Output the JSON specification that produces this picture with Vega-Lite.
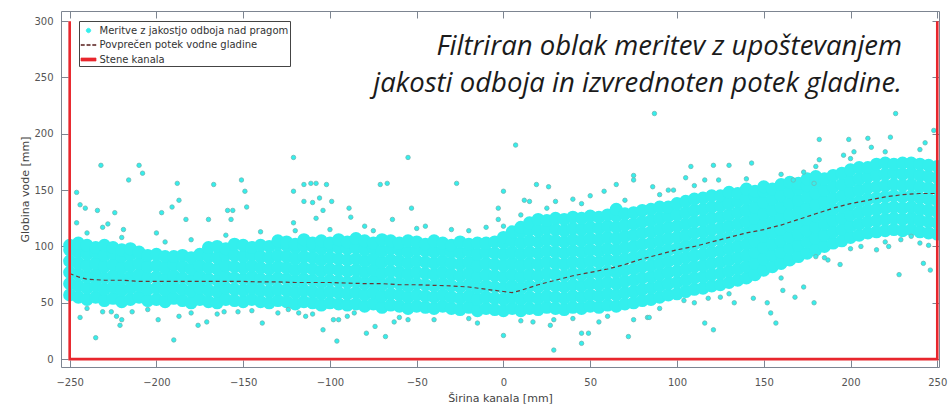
{
  "$schema": "https://vega.github.io/schema/vega-lite/v6.json",
  "width": 878,
  "height": 356,
  "autosize": {"type": "none"},
  "padding": {"left": 61, "top": 11, "right": 9, "bottom": 38},
  "background": "white",
  "config": {
    "view": {"stroke": "#7d8591", "strokeWidth": 1},
    "font": "DejaVu Sans",
    "axis": {
      "grid": false, "domain": false,
      "tickColor": "#7d8591", "tickSize": -7, "tickWidth": 1,
      "labelFont": "DejaVu Sans", "labelFontSize": 10, "labelColor": "#555555", "labelFlush": false,
      "titleFont": "DejaVu Sans", "titleFontSize": 11, "titleFontWeight": "normal", "titleColor": "#444444"
    }
  },
  "datasets": {
    "core": [
      {"x":-250,"y":57},{"x":-250,"y":67},{"x":-250,"y":77},{"x":-250,"y":87},{"x":-250,"y":97},{"x":-250,"y":101},
      {"x":-245,"y":55},{"x":-245,"y":65},{"x":-245,"y":75},{"x":-245,"y":85},{"x":-245,"y":95},{"x":-245,"y":103},
      {"x":-240,"y":53},{"x":-240,"y":63},{"x":-240,"y":73},{"x":-240,"y":83},{"x":-240,"y":93},{"x":-240,"y":101},
      {"x":-235,"y":55},{"x":-235,"y":65},{"x":-235,"y":75},{"x":-235,"y":85},{"x":-235,"y":95},{"x":-235,"y":99},
      {"x":-230,"y":52},{"x":-230,"y":62},{"x":-230,"y":72},{"x":-230,"y":82},{"x":-230,"y":92},{"x":-230,"y":101},
      {"x":-225,"y":54},{"x":-225,"y":64},{"x":-225,"y":74},{"x":-225,"y":84},{"x":-225,"y":94},{"x":-225,"y":99},
      {"x":-220,"y":51},{"x":-220,"y":61},{"x":-220,"y":71},{"x":-220,"y":81},{"x":-220,"y":91},{"x":-220,"y":97},
      {"x":-215,"y":53},{"x":-215,"y":63},{"x":-215,"y":73},{"x":-215,"y":83},{"x":-215,"y":93},{"x":-215,"y":98},
      {"x":-210,"y":55},{"x":-210,"y":65},{"x":-210,"y":75},{"x":-210,"y":85},{"x":-210,"y":95},
      {"x":-205,"y":52},{"x":-205,"y":62},{"x":-205,"y":72},{"x":-205,"y":82},{"x":-205,"y":92},
      {"x":-200,"y":53},{"x":-200,"y":63},{"x":-200,"y":73},{"x":-200,"y":83},{"x":-200,"y":93},
      {"x":-195,"y":51},{"x":-195,"y":61},{"x":-195,"y":71},{"x":-195,"y":81},{"x":-195,"y":91},
      {"x":-190,"y":54},{"x":-190,"y":64},{"x":-190,"y":74},{"x":-190,"y":84},{"x":-190,"y":91},
      {"x":-185,"y":52},{"x":-185,"y":62},{"x":-185,"y":72},{"x":-185,"y":82},{"x":-185,"y":92},
      {"x":-180,"y":50},{"x":-180,"y":60},{"x":-180,"y":70},{"x":-180,"y":80},{"x":-180,"y":90},
      {"x":-175,"y":53},{"x":-175,"y":63},{"x":-175,"y":73},{"x":-175,"y":83},{"x":-175,"y":93},
      {"x":-170,"y":51},{"x":-170,"y":61},{"x":-170,"y":71},{"x":-170,"y":81},{"x":-170,"y":91},{"x":-170,"y":99},
      {"x":-165,"y":50},{"x":-165,"y":60},{"x":-165,"y":70},{"x":-165,"y":80},{"x":-165,"y":90},{"x":-165,"y":100},
      {"x":-160,"y":53},{"x":-160,"y":63},{"x":-160,"y":73},{"x":-160,"y":83},{"x":-160,"y":93},{"x":-160,"y":98},
      {"x":-155,"y":52},{"x":-155,"y":62},{"x":-155,"y":72},{"x":-155,"y":82},{"x":-155,"y":92},{"x":-155,"y":102},
      {"x":-150,"y":51},{"x":-150,"y":61},{"x":-150,"y":71},{"x":-150,"y":81},{"x":-150,"y":91},{"x":-150,"y":101},
      {"x":-145,"y":53},{"x":-145,"y":63},{"x":-145,"y":73},{"x":-145,"y":83},{"x":-145,"y":93},{"x":-145,"y":99},
      {"x":-140,"y":51},{"x":-140,"y":61},{"x":-140,"y":71},{"x":-140,"y":81},{"x":-140,"y":91},{"x":-140,"y":101},
      {"x":-135,"y":50},{"x":-135,"y":60},{"x":-135,"y":70},{"x":-135,"y":80},{"x":-135,"y":90},{"x":-135,"y":100},
      {"x":-130,"y":52},{"x":-130,"y":62},{"x":-130,"y":72},{"x":-130,"y":82},{"x":-130,"y":92},{"x":-130,"y":102},{"x":-130,"y":105},
      {"x":-125,"y":51},{"x":-125,"y":61},{"x":-125,"y":71},{"x":-125,"y":81},{"x":-125,"y":91},{"x":-125,"y":101},{"x":-125,"y":104},
      {"x":-120,"y":49},{"x":-120,"y":59},{"x":-120,"y":69},{"x":-120,"y":79},{"x":-120,"y":89},{"x":-120,"y":99},{"x":-120,"y":102},
      {"x":-115,"y":51},{"x":-115,"y":61},{"x":-115,"y":71},{"x":-115,"y":81},{"x":-115,"y":91},{"x":-115,"y":101},{"x":-115,"y":106},
      {"x":-110,"y":50},{"x":-110,"y":60},{"x":-110,"y":70},{"x":-110,"y":80},{"x":-110,"y":90},{"x":-110,"y":100},{"x":-110,"y":103},
      {"x":-105,"y":48},{"x":-105,"y":58},{"x":-105,"y":68},{"x":-105,"y":78},{"x":-105,"y":88},{"x":-105,"y":98},{"x":-105,"y":105},
      {"x":-100,"y":50},{"x":-100,"y":60},{"x":-100,"y":70},{"x":-100,"y":80},{"x":-100,"y":90},{"x":-100,"y":100},{"x":-100,"y":103},
      {"x":-95,"y":49},{"x":-95,"y":59},{"x":-95,"y":69},{"x":-95,"y":79},{"x":-95,"y":89},{"x":-95,"y":99},{"x":-95,"y":106},
      {"x":-90,"y":48},{"x":-90,"y":58},{"x":-90,"y":68},{"x":-90,"y":78},{"x":-90,"y":88},{"x":-90,"y":98},{"x":-90,"y":104},
      {"x":-85,"y":49},{"x":-85,"y":59},{"x":-85,"y":69},{"x":-85,"y":79},{"x":-85,"y":89},{"x":-85,"y":99},{"x":-85,"y":107},
      {"x":-80,"y":47},{"x":-80,"y":57},{"x":-80,"y":67},{"x":-80,"y":77},{"x":-80,"y":87},{"x":-80,"y":97},{"x":-80,"y":105},
      {"x":-75,"y":49},{"x":-75,"y":59},{"x":-75,"y":69},{"x":-75,"y":79},{"x":-75,"y":89},{"x":-75,"y":99},{"x":-75,"y":103},
      {"x":-70,"y":46},{"x":-70,"y":56},{"x":-70,"y":66},{"x":-70,"y":76},{"x":-70,"y":86},{"x":-70,"y":96},{"x":-70,"y":106},
      {"x":-65,"y":48},{"x":-65,"y":58},{"x":-65,"y":68},{"x":-65,"y":78},{"x":-65,"y":88},{"x":-65,"y":98},{"x":-65,"y":105},
      {"x":-60,"y":47},{"x":-60,"y":57},{"x":-60,"y":67},{"x":-60,"y":77},{"x":-60,"y":87},{"x":-60,"y":97},{"x":-60,"y":103},
      {"x":-55,"y":45},{"x":-55,"y":55},{"x":-55,"y":65},{"x":-55,"y":75},{"x":-55,"y":85},{"x":-55,"y":95},{"x":-55,"y":105},
      {"x":-50,"y":47},{"x":-50,"y":57},{"x":-50,"y":67},{"x":-50,"y":77},{"x":-50,"y":87},{"x":-50,"y":97},{"x":-50,"y":104},
      {"x":-45,"y":46},{"x":-45,"y":56},{"x":-45,"y":66},{"x":-45,"y":76},{"x":-45,"y":86},{"x":-45,"y":96},{"x":-45,"y":102},
      {"x":-40,"y":45},{"x":-40,"y":55},{"x":-40,"y":65},{"x":-40,"y":75},{"x":-40,"y":85},{"x":-40,"y":95},{"x":-40,"y":105},
      {"x":-35,"y":47},{"x":-35,"y":57},{"x":-35,"y":67},{"x":-35,"y":77},{"x":-35,"y":87},{"x":-35,"y":97},{"x":-35,"y":103},
      {"x":-30,"y":45},{"x":-30,"y":55},{"x":-30,"y":65},{"x":-30,"y":75},{"x":-30,"y":85},{"x":-30,"y":95},{"x":-30,"y":101},
      {"x":-25,"y":44},{"x":-25,"y":54},{"x":-25,"y":64},{"x":-25,"y":74},{"x":-25,"y":84},{"x":-25,"y":94},{"x":-25,"y":104},
      {"x":-20,"y":46},{"x":-20,"y":56},{"x":-20,"y":66},{"x":-20,"y":76},{"x":-20,"y":86},{"x":-20,"y":96},{"x":-20,"y":102},
      {"x":-15,"y":43},{"x":-15,"y":53},{"x":-15,"y":63},{"x":-15,"y":73},{"x":-15,"y":83},{"x":-15,"y":93},{"x":-15,"y":103},
      {"x":-10,"y":45},{"x":-10,"y":55},{"x":-10,"y":65},{"x":-10,"y":75},{"x":-10,"y":85},{"x":-10,"y":95},{"x":-10,"y":103},
      {"x":-5,"y":44},{"x":-5,"y":54},{"x":-5,"y":64},{"x":-5,"y":74},{"x":-5,"y":84},{"x":-5,"y":94},{"x":-5,"y":104},
      {"x":0,"y":43},{"x":0,"y":53},{"x":0,"y":63},{"x":0,"y":73},{"x":0,"y":83},{"x":0,"y":93},{"x":0,"y":103},{"x":0,"y":108},
      {"x":5,"y":45},{"x":5,"y":55},{"x":5,"y":65},{"x":5,"y":75},{"x":5,"y":85},{"x":5,"y":95},{"x":5,"y":105},{"x":5,"y":113},
      {"x":10,"y":43},{"x":10,"y":53},{"x":10,"y":63},{"x":10,"y":73},{"x":10,"y":83},{"x":10,"y":93},{"x":10,"y":103},{"x":10,"y":113},{"x":10,"y":117},
      {"x":15,"y":45},{"x":15,"y":55},{"x":15,"y":65},{"x":15,"y":75},{"x":15,"y":85},{"x":15,"y":95},{"x":15,"y":105},{"x":15,"y":115},{"x":15,"y":121},
      {"x":20,"y":44},{"x":20,"y":54},{"x":20,"y":64},{"x":20,"y":74},{"x":20,"y":84},{"x":20,"y":94},{"x":20,"y":104},{"x":20,"y":114},{"x":20,"y":124},
      {"x":25,"y":46},{"x":25,"y":56},{"x":25,"y":66},{"x":25,"y":76},{"x":25,"y":86},{"x":25,"y":96},{"x":25,"y":106},{"x":25,"y":116},{"x":25,"y":123},
      {"x":30,"y":45},{"x":30,"y":55},{"x":30,"y":65},{"x":30,"y":75},{"x":30,"y":85},{"x":30,"y":95},{"x":30,"y":105},{"x":30,"y":115},{"x":30,"y":125},
      {"x":35,"y":44},{"x":35,"y":54},{"x":35,"y":64},{"x":35,"y":74},{"x":35,"y":84},{"x":35,"y":94},{"x":35,"y":104},{"x":35,"y":114},{"x":35,"y":124},
      {"x":40,"y":46},{"x":40,"y":56},{"x":40,"y":66},{"x":40,"y":76},{"x":40,"y":86},{"x":40,"y":96},{"x":40,"y":106},{"x":40,"y":116},{"x":40,"y":126},
      {"x":45,"y":45},{"x":45,"y":55},{"x":45,"y":65},{"x":45,"y":75},{"x":45,"y":85},{"x":45,"y":95},{"x":45,"y":105},{"x":45,"y":115},{"x":45,"y":125},
      {"x":50,"y":47},{"x":50,"y":57},{"x":50,"y":67},{"x":50,"y":77},{"x":50,"y":87},{"x":50,"y":97},{"x":50,"y":107},{"x":50,"y":117},{"x":50,"y":127},
      {"x":55,"y":46},{"x":55,"y":56},{"x":55,"y":66},{"x":55,"y":76},{"x":55,"y":86},{"x":55,"y":96},{"x":55,"y":106},{"x":55,"y":116},{"x":55,"y":126},
      {"x":60,"y":48},{"x":60,"y":58},{"x":60,"y":68},{"x":60,"y":78},{"x":60,"y":88},{"x":60,"y":98},{"x":60,"y":108},{"x":60,"y":118},{"x":60,"y":128},
      {"x":65,"y":47},{"x":65,"y":57},{"x":65,"y":67},{"x":65,"y":77},{"x":65,"y":87},{"x":65,"y":97},{"x":65,"y":107},{"x":65,"y":117},{"x":65,"y":127},{"x":65,"y":133},
      {"x":70,"y":49},{"x":70,"y":59},{"x":70,"y":69},{"x":70,"y":79},{"x":70,"y":89},{"x":70,"y":99},{"x":70,"y":109},{"x":70,"y":119},{"x":70,"y":129},
      {"x":75,"y":50},{"x":75,"y":60},{"x":75,"y":70},{"x":75,"y":80},{"x":75,"y":90},{"x":75,"y":100},{"x":75,"y":110},{"x":75,"y":120},{"x":75,"y":130},
      {"x":80,"y":52},{"x":80,"y":62},{"x":80,"y":72},{"x":80,"y":82},{"x":80,"y":92},{"x":80,"y":102},{"x":80,"y":112},{"x":80,"y":122},{"x":80,"y":132},
      {"x":85,"y":53},{"x":85,"y":63},{"x":85,"y":73},{"x":85,"y":83},{"x":85,"y":93},{"x":85,"y":103},{"x":85,"y":113},{"x":85,"y":123},{"x":85,"y":133},
      {"x":90,"y":55},{"x":90,"y":65},{"x":90,"y":75},{"x":90,"y":85},{"x":90,"y":95},{"x":90,"y":105},{"x":90,"y":115},{"x":90,"y":125},{"x":90,"y":135},
      {"x":95,"y":57},{"x":95,"y":67},{"x":95,"y":77},{"x":95,"y":87},{"x":95,"y":97},{"x":95,"y":107},{"x":95,"y":117},{"x":95,"y":127},{"x":95,"y":135},
      {"x":100,"y":58},{"x":100,"y":68},{"x":100,"y":78},{"x":100,"y":88},{"x":100,"y":98},{"x":100,"y":108},{"x":100,"y":118},{"x":100,"y":128},{"x":100,"y":138},
      {"x":105,"y":60},{"x":105,"y":70},{"x":105,"y":80},{"x":105,"y":90},{"x":105,"y":100},{"x":105,"y":110},{"x":105,"y":120},{"x":105,"y":130},{"x":105,"y":140},
      {"x":110,"y":62},{"x":110,"y":72},{"x":110,"y":82},{"x":110,"y":92},{"x":110,"y":102},{"x":110,"y":112},{"x":110,"y":122},{"x":110,"y":132},{"x":110,"y":142},
      {"x":115,"y":63},{"x":115,"y":73},{"x":115,"y":83},{"x":115,"y":93},{"x":115,"y":103},{"x":115,"y":113},{"x":115,"y":123},{"x":115,"y":133},{"x":115,"y":143},
      {"x":120,"y":65},{"x":120,"y":75},{"x":120,"y":85},{"x":120,"y":95},{"x":120,"y":105},{"x":120,"y":115},{"x":120,"y":125},{"x":120,"y":135},{"x":120,"y":145},
      {"x":125,"y":66},{"x":125,"y":76},{"x":125,"y":86},{"x":125,"y":96},{"x":125,"y":106},{"x":125,"y":116},{"x":125,"y":126},{"x":125,"y":136},{"x":125,"y":145},
      {"x":130,"y":68},{"x":130,"y":78},{"x":130,"y":88},{"x":130,"y":98},{"x":130,"y":108},{"x":130,"y":118},{"x":130,"y":128},{"x":130,"y":138},{"x":130,"y":148},
      {"x":135,"y":70},{"x":135,"y":80},{"x":135,"y":90},{"x":135,"y":100},{"x":135,"y":110},{"x":135,"y":120},{"x":135,"y":130},{"x":135,"y":140},{"x":135,"y":147},
      {"x":140,"y":72},{"x":140,"y":82},{"x":140,"y":92},{"x":140,"y":102},{"x":140,"y":112},{"x":140,"y":122},{"x":140,"y":132},{"x":140,"y":142},{"x":140,"y":151},
      {"x":145,"y":75},{"x":145,"y":85},{"x":145,"y":95},{"x":145,"y":105},{"x":145,"y":115},{"x":145,"y":125},{"x":145,"y":135},{"x":145,"y":145},{"x":145,"y":149},
      {"x":150,"y":79},{"x":150,"y":89},{"x":150,"y":99},{"x":150,"y":109},{"x":150,"y":119},{"x":150,"y":129},{"x":150,"y":139},{"x":150,"y":149},{"x":150,"y":153},
      {"x":155,"y":82},{"x":155,"y":92},{"x":155,"y":102},{"x":155,"y":112},{"x":155,"y":122},{"x":155,"y":132},{"x":155,"y":142},{"x":155,"y":151},
      {"x":160,"y":85},{"x":160,"y":95},{"x":160,"y":105},{"x":160,"y":115},{"x":160,"y":125},{"x":160,"y":135},{"x":160,"y":145},{"x":160,"y":155},
      {"x":165,"y":88},{"x":165,"y":98},{"x":165,"y":108},{"x":165,"y":118},{"x":165,"y":128},{"x":165,"y":138},{"x":165,"y":148},{"x":165,"y":157},
      {"x":170,"y":91},{"x":170,"y":101},{"x":170,"y":111},{"x":170,"y":121},{"x":170,"y":131},{"x":170,"y":141},{"x":170,"y":151},{"x":170,"y":156},
      {"x":175,"y":94},{"x":175,"y":104},{"x":175,"y":114},{"x":175,"y":124},{"x":175,"y":134},{"x":175,"y":144},{"x":175,"y":154},{"x":175,"y":160},
      {"x":180,"y":97},{"x":180,"y":107},{"x":180,"y":117},{"x":180,"y":127},{"x":180,"y":137},{"x":180,"y":147},{"x":180,"y":157},{"x":180,"y":162},
      {"x":185,"y":100},{"x":185,"y":110},{"x":185,"y":120},{"x":185,"y":130},{"x":185,"y":140},{"x":185,"y":150},{"x":185,"y":160},
      {"x":190,"y":103},{"x":190,"y":113},{"x":190,"y":123},{"x":190,"y":133},{"x":190,"y":143},{"x":190,"y":153},{"x":190,"y":163},
      {"x":195,"y":105},{"x":195,"y":115},{"x":195,"y":125},{"x":195,"y":135},{"x":195,"y":145},{"x":195,"y":155},{"x":195,"y":165},
      {"x":200,"y":108},{"x":200,"y":118},{"x":200,"y":128},{"x":200,"y":138},{"x":200,"y":148},{"x":200,"y":158},{"x":200,"y":168},
      {"x":205,"y":110},{"x":205,"y":120},{"x":205,"y":130},{"x":205,"y":140},{"x":205,"y":150},{"x":205,"y":160},{"x":205,"y":170},
      {"x":210,"y":112},{"x":210,"y":122},{"x":210,"y":132},{"x":210,"y":142},{"x":210,"y":152},{"x":210,"y":162},{"x":210,"y":170},
      {"x":215,"y":113},{"x":215,"y":123},{"x":215,"y":133},{"x":215,"y":143},{"x":215,"y":153},{"x":215,"y":163},{"x":215,"y":173},
      {"x":220,"y":114},{"x":220,"y":124},{"x":220,"y":134},{"x":220,"y":144},{"x":220,"y":154},{"x":220,"y":164},{"x":220,"y":174},
      {"x":225,"y":115},{"x":225,"y":125},{"x":225,"y":135},{"x":225,"y":145},{"x":225,"y":155},{"x":225,"y":165},{"x":225,"y":173},
      {"x":230,"y":114},{"x":230,"y":124},{"x":230,"y":134},{"x":230,"y":144},{"x":230,"y":154},{"x":230,"y":164},{"x":230,"y":174},
      {"x":235,"y":115},{"x":235,"y":125},{"x":235,"y":135},{"x":235,"y":145},{"x":235,"y":155},{"x":235,"y":165},{"x":235,"y":174},
      {"x":240,"y":113},{"x":240,"y":123},{"x":240,"y":133},{"x":240,"y":143},{"x":240,"y":153},{"x":240,"y":163},{"x":240,"y":173},
      {"x":245,"y":112},{"x":245,"y":122},{"x":245,"y":132},{"x":245,"y":142},{"x":245,"y":152},{"x":245,"y":162},{"x":245,"y":172},
      {"x":250,"y":111},{"x":250,"y":121},{"x":250,"y":131},{"x":250,"y":141},{"x":250,"y":151},{"x":250,"y":161},{"x":250,"y":171}
    ],
    "sparse": [
      {"x":-232,"y":172},{"x":-210,"y":172},{"x":-208,"y":165},{"x":-216,"y":159},{"x":-246,"y":148},{"x":-244,"y":137},{"x":-241,"y":134},
      {"x":-234,"y":132},{"x":-224,"y":130},{"x":-246,"y":121},{"x":-231,"y":117},{"x":-228,"y":120},{"x":-219,"y":115},{"x":-200,"y":112},
      {"x":-188,"y":156},{"x":-187,"y":141},{"x":-191,"y":135},{"x":-197,"y":130},{"x":-183,"y":124},{"x":-167,"y":155},{"x":-151,"y":159},
      {"x":-149,"y":149},{"x":-148,"y":135},{"x":-159,"y":132},{"x":-156,"y":132},{"x":-170,"y":124},{"x":-157,"y":124},{"x":-121,"y":179},
      {"x":-121,"y":149},{"x":-115,"y":155},{"x":-111,"y":156},{"x":-108,"y":156},{"x":-102,"y":155},{"x":-115,"y":140},{"x":-110,"y":139},
      {"x":-106,"y":143},{"x":-99,"y":140},{"x":-104,"y":132},{"x":-108,"y":125},{"x":-121,"y":121},{"x":-89,"y":134},{"x":-88,"y":126},
      {"x":7,"y":190},{"x":-55,"y":179},{"x":-71,"y":155},{"x":-67,"y":156},{"x":-27,"y":156},{"x":-53,"y":134},{"x":-64,"y":124},
      {"x":0,"y":149},{"x":-3,"y":134},{"x":-3,"y":124},{"x":12,"y":141},{"x":15,"y":140},{"x":19,"y":155},{"x":26,"y":153},
      {"x":58,"y":149},{"x":65,"y":155},{"x":75,"y":163},{"x":75,"y":159},{"x":-80,"y":118},{"x":-45,"y":118},{"x":-30,"y":115},
      {"x":-10,"y":117},{"x":30,"y":140},{"x":40,"y":142},{"x":50,"y":145},
      {"x":87,"y":218},{"x":226,"y":218},{"x":182,"y":195},{"x":199,"y":195},{"x":210,"y":196},{"x":223,"y":197},{"x":243,"y":192},
      {"x":248,"y":203},{"x":196,"y":181},{"x":202,"y":184},{"x":212,"y":188},{"x":182,"y":177},{"x":173,"y":166},{"x":143,"y":174},
      {"x":108,"y":171},{"x":121,"y":172},{"x":130,"y":172},{"x":105,"y":161},{"x":116,"y":159},{"x":124,"y":159},{"x":86,"y":153},
      {"x":95,"y":150},{"x":98,"y":150},{"x":167,"y":159},{"x":179,"y":156},
      {"x":-244,"y":37},{"x":-235,"y":19},{"x":-231,"y":42},{"x":-221,"y":30},{"x":-220,"y":35},{"x":-223,"y":38},{"x":-214,"y":42},
      {"x":-199,"y":35},{"x":-190,"y":17},{"x":-187,"y":38},{"x":-176,"y":30},{"x":-171,"y":33},{"x":-161,"y":42},{"x":-153,"y":42},
      {"x":-139,"y":32},{"x":-124,"y":44},{"x":-118,"y":41},{"x":-114,"y":38},{"x":-104,"y":26},{"x":-98,"y":35},{"x":-95,"y":35},
      {"x":-96,"y":16},{"x":-86,"y":41},
      {"x":-79,"y":23},{"x":-68,"y":20},{"x":-74,"y":29},{"x":-63,"y":33},{"x":-55,"y":35},{"x":0,"y":21},{"x":-15,"y":32},
      {"x":17,"y":33},{"x":27,"y":30},{"x":29,"y":35},{"x":29,"y":8},{"x":45,"y":23},{"x":49,"y":23},{"x":45,"y":14},
      {"x":72,"y":20},{"x":55,"y":33},{"x":75,"y":35},{"x":83,"y":37},
      {"x":84,"y":37},{"x":104,"y":52},{"x":110,"y":50},{"x":118,"y":54},{"x":125,"y":55},{"x":133,"y":50},{"x":144,"y":54},
      {"x":152,"y":50},{"x":154,"y":41},{"x":157,"y":32},{"x":161,"y":61},{"x":168,"y":55},{"x":173,"y":64},{"x":179,"y":50},
      {"x":194,"y":84},{"x":228,"y":75},{"x":242,"y":85},{"x":246,"y":79},{"x":206,"y":100},{"x":215,"y":97},{"x":222,"y":100},
      {"x":229,"y":106},{"x":235,"y":109},{"x":240,"y":103},{"x":180,"y":91},{"x":187,"y":88},{"x":116,"y":32},{"x":121,"y":26},
      {"x":-240,"y":112},{"x":-220,"y":108},{"x":-195,"y":104},{"x":-180,"y":106},{"x":-160,"y":110},{"x":-140,"y":113},{"x":-120,"y":114},
      {"x":-100,"y":115},{"x":-75,"y":114},{"x":-50,"y":116},{"x":-20,"y":114},{"x":0,"y":118},{"x":10,"y":128},{"x":25,"y":134},
      {"x":45,"y":138},{"x":70,"y":141},{"x":90,"y":146},{"x":110,"y":154},{"x":140,"y":160},{"x":160,"y":164},{"x":180,"y":171},
      {"x":200,"y":178},{"x":220,"y":184},{"x":240,"y":186},
      {"x":-240,"y":45},{"x":-226,"y":42},{"x":-205,"y":44},{"x":-180,"y":41},{"x":-165,"y":40},{"x":-145,"y":43},{"x":-130,"y":41},
      {"x":-110,"y":40},{"x":-90,"y":38},{"x":-60,"y":37},{"x":-40,"y":35},{"x":-20,"y":36},{"x":10,"y":34},{"x":40,"y":36},
      {"x":60,"y":38},{"x":90,"y":45},{"x":130,"y":58},{"x":160,"y":72},{"x":185,"y":90},{"x":200,"y":98},{"x":220,"y":104},{"x":245,"y":101}
    ],
    "mean": [
      {"x":-250,"y":76},{"x":-245,"y":73},{"x":-240,"y":71},{"x":-230,"y":70},{"x":-220,"y":70},{"x":-210,"y":69},{"x":-200,"y":69},
      {"x":-190,"y":69},{"x":-180,"y":69},{"x":-170,"y":69},{"x":-160,"y":69},{"x":-150,"y":69},{"x":-140,"y":68.5},{"x":-130,"y":68.5},
      {"x":-120,"y":68},{"x":-110,"y":68},{"x":-100,"y":68},{"x":-90,"y":67.5},{"x":-80,"y":67},{"x":-70,"y":67},{"x":-60,"y":66},
      {"x":-50,"y":66},{"x":-40,"y":65.5},{"x":-30,"y":65},{"x":-20,"y":64},{"x":-10,"y":62},{"x":0,"y":60},{"x":5,"y":59},
      {"x":10,"y":61},{"x":20,"y":66},{"x":30,"y":70},{"x":40,"y":74},{"x":50,"y":77},{"x":60,"y":80},{"x":70,"y":84},
      {"x":80,"y":89},{"x":90,"y":93},{"x":100,"y":97},{"x":110,"y":100},{"x":120,"y":104},{"x":130,"y":108},{"x":140,"y":112},
      {"x":150,"y":115},{"x":160,"y":119},{"x":170,"y":124},{"x":180,"y":129},{"x":190,"y":134},{"x":200,"y":138},{"x":210,"y":141},
      {"x":220,"y":144},{"x":230,"y":146},{"x":240,"y":147},{"x":250,"y":147}
    ],
    "walls": [
      {"x":-250,"y":300,"o":1},{"x":-250,"y":0,"o":2},{"x":250,"y":0,"o":3},{"x":250,"y":300,"o":4}
    ],
    "notes": [
      {"x":229.7,"y":270.3,"t":"Filtriran oblak meritev z upoštevanjem"},
      {"x":229.7,"y":237.5,"t":"jakosti odboja in izvrednoten potek gladine."}
    ]
  },
  "resolve": {"axis": {"x": "independent", "y": "independent"}},
  "layer": [
    {
      "data": {"name": "core"},
      "mark": {"type": "circle", "size": 170, "opacity": 1, "clip": true},
      "encoding": {
        "x": {
          "field": "x", "type": "quantitative",
          "scale": {"domain": [-255, 251], "nice": false, "zero": false},
          "axis": {"orient": "bottom", "values": [-250,-200,-150,-100,-50,0,50,100,150,200,250], "labelPadding": 17, "title": "Širina kanala [mm]", "titlePadding": 5}
        },
        "y": {
          "field": "y", "type": "quantitative",
          "scale": {"domain": [-7, 309], "nice": false, "zero": false},
          "axis": {"orient": "left", "values": [0,50,100,150,200,250,300], "labelPadding": 15, "title": "Globina vode [mm]", "titlePadding": 3}
        },
        "color": {
          "datum": "Meritve z jakostjo odboja nad pragom",
          "scale": {
            "domain": ["Meritve z jakostjo odboja nad pragom", "Povprečen potek vodne gladine", "Stene kanala"],
            "range": ["#33efed", "#6a3634", "#e8262d"]
          },
          "legend": {
            "orient": "none", "legendX": 18, "legendY": 10, "title": null,
            "strokeColor": "#444444", "fillColor": "white", "padding": 1.5,
            "labelFont": "DejaVu Sans", "labelFontSize": 10, "labelColor": "#333333",
            "symbolSize": 225, "rowPadding": 1.5, "labelOffset": 3, "labelLimit": 300,
            "symbolStrokeWidth": 0.7,
            "symbolType": {"expr": "datum.value === 'Meritve z jakostjo odboja nad pragom' ? 'M-0.3,0a0.3,0.3 0 1,0 0.6,0a0.3,0.3 0 1,0 -0.6,0Z' : (datum.value === 'Stene kanala' ? 'M-1,-0.2H1V0.2H-1Z' : 'M-1,-0.07h0.45v0.14h-0.45z M-0.22,-0.07h0.45v0.14h-0.45z M0.55,-0.07h0.45v0.14h-0.45z')"},
            "symbolStrokeColor": {"expr": "datum.value === 'Meritve z jakostjo odboja nad pragom' ? '#6fb7b3' : 'transparent'"}
          }
        }
      }
    },
    {
      "data": {"name": "sparse"},
      "mark": {"type": "circle", "size": 20, "opacity": 1, "stroke": "#6fb7b3", "strokeWidth": 0.8, "clip": true},
      "encoding": {
        "x": {"field": "x", "type": "quantitative", "axis": {"orient": "top", "values": [-250,-200,-150,-100,-50,0,50,100,150,200,250], "labels": false, "title": null}},
        "y": {"field": "y", "type": "quantitative", "axis": {"orient": "right", "values": [0,50,100,150,200,250,300], "labels": false, "title": null}},
        "color": {"datum": "Meritve z jakostjo odboja nad pragom"}
      }
    },
    {
      "data": {"name": "mean"},
      "mark": {"type": "line", "strokeWidth": 1.2, "strokeDash": [4, 3], "clip": true},
      "encoding": {
        "x": {"field": "x", "type": "quantitative", "axis": null},
        "y": {"field": "y", "type": "quantitative", "axis": null},
        "color": {"datum": "Povprečen potek vodne gladine"}
      }
    },
    {
      "data": {"name": "walls"},
      "mark": {"type": "line", "strokeWidth": 2.6, "strokeJoin": "miter", "strokeCap": "butt"},
      "encoding": {
        "x": {"field": "x", "type": "quantitative", "axis": null},
        "y": {"field": "y", "type": "quantitative", "axis": null},
        "order": {"field": "o", "type": "quantitative"},
        "color": {"datum": "Stene kanala"}
      }
    },
    {
      "data": {"name": "notes"},
      "mark": {"type": "text", "align": "right", "baseline": "alphabetic", "font": "Open Sans", "fontStyle": "italic", "fontSize": 27.5, "color": "#1b1b1b"},
      "encoding": {
        "x": {"field": "x", "type": "quantitative", "axis": null},
        "y": {"field": "y", "type": "quantitative", "axis": null},
        "text": {"field": "t"}
      }
    }
  ]
}
